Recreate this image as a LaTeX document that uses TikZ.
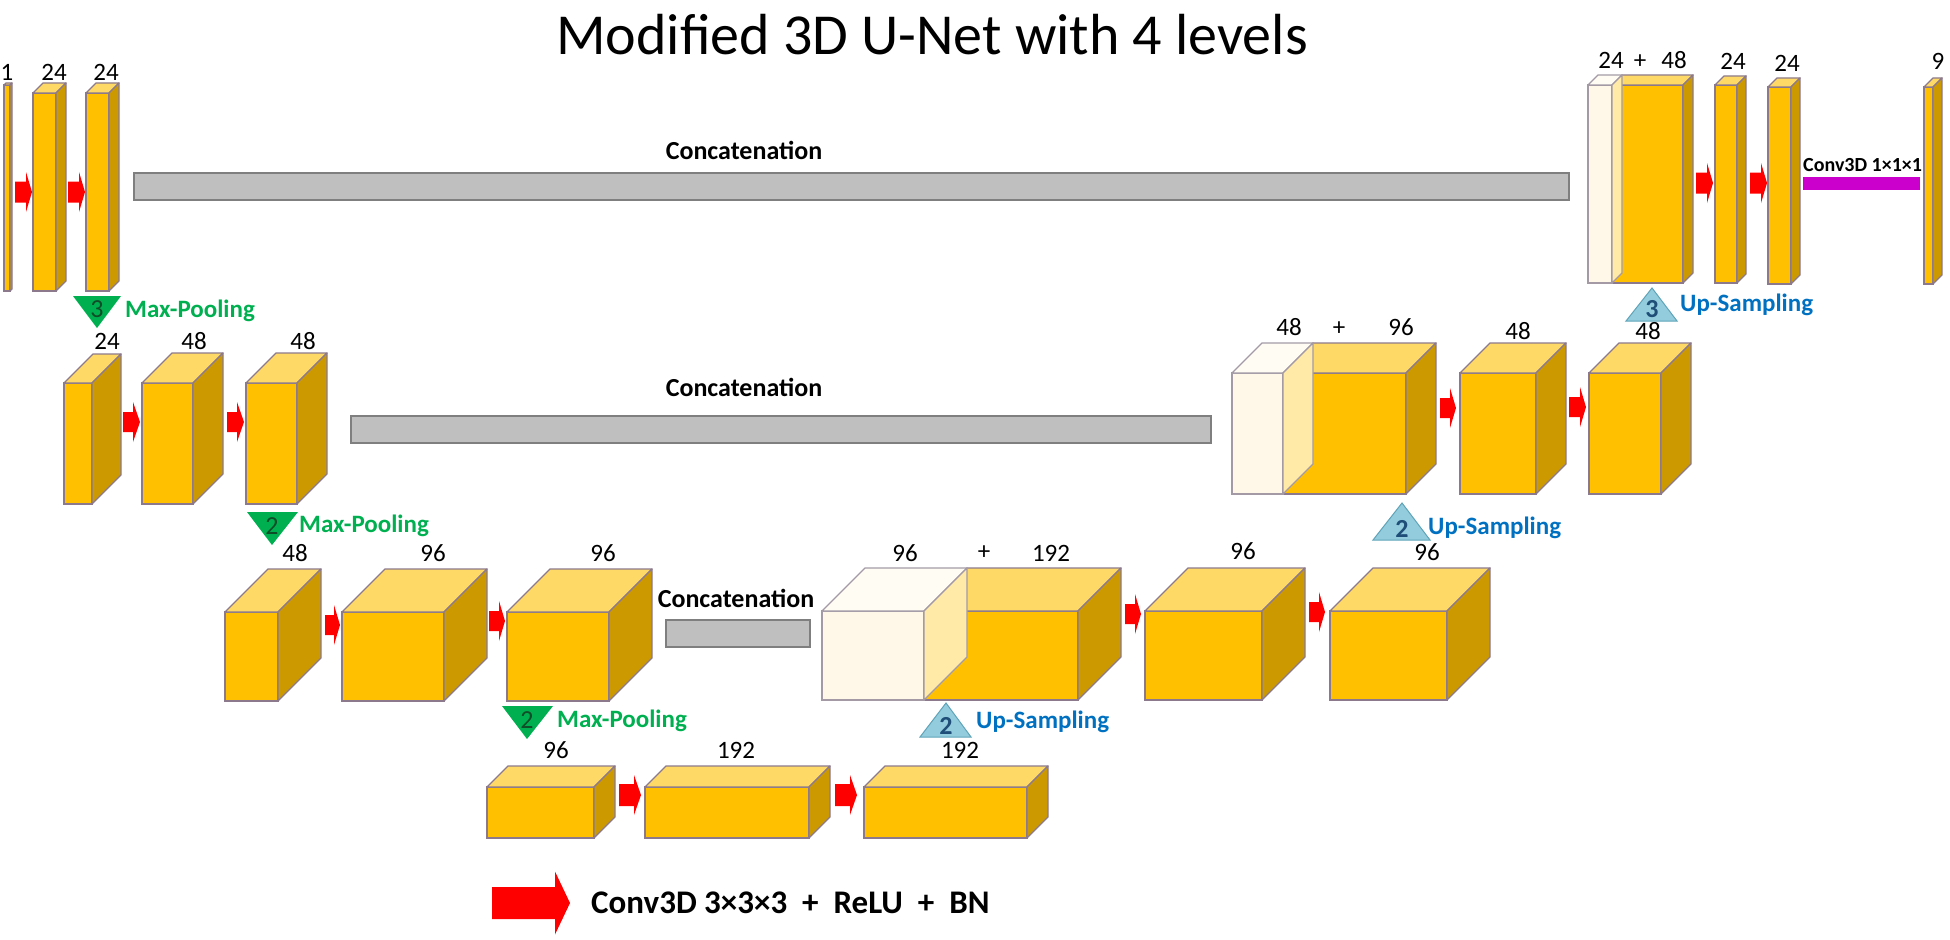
\documentclass[tikz,border=0pt]{standalone}
\usepackage{fontspec}
\setmainfont{Carlito}
\definecolor{cfront}{HTML}{FFC000}
\definecolor{ctop}{HTML}{FFD966}
\definecolor{cside}{HTML}{CC9900}
\definecolor{cedge}{HTML}{8C7A8C}
\definecolor{wfront}{HTML}{FFF8E8}
\definecolor{wtop}{HTML}{FFFCF4}
\definecolor{wside}{HTML}{FFEAA8}
\definecolor{wedge}{HTML}{A39AA6}
\definecolor{cgrey}{HTML}{BFBFBF}
\definecolor{cgreyedge}{HTML}{7F7F7F}
\definecolor{cmag}{HTML}{CC00CC}
\definecolor{cgreen}{HTML}{00B050}
\definecolor{cgreennum}{HTML}{0F4D28}
\definecolor{cblue}{HTML}{0070C0}
\definecolor{cbluetri}{HTML}{93CDDD}
\definecolor{cbluetriedge}{HTML}{5FA3B8}
\definecolor{cbluenum}{HTML}{1F4E79}
\definecolor{cred}{HTML}{FF0000}
% #1 colour prefix (c or w), #2 x, #3 y (front top-left), #4 width, #5 height, #6 depth
\newcommand\boxthree[6]{%
  \filldraw[fill=#1front, draw=#1edge, line width=1.3pt] (#2,#3) rectangle ({#2+#4},{#3+#5});
  \filldraw[fill=#1top, draw=#1edge, line width=1.3pt, line join=round] (#2,#3) -- ({#2+#6},{#3-#6}) -- ({#2+#4+#6},{#3-#6}) -- ({#2+#4},#3) -- cycle;
  \filldraw[fill=#1side, draw=#1edge, line width=1.3pt, line join=round] ({#2+#4},#3) -- ({#2+#4+#6},{#3-#6}) -- ({#2+#4+#6},{#3+#5-#6}) -- ({#2+#4},{#3+#5}) -- cycle;
}
% red block arrow: #1 x start, #2 y centre, #3 length, #4 head length, #5 body height, #6 head height
\newcommand\blockarrow[6]{%
  \fill[cred] (#1,{#2-#5/2}) -- ({#1+#3-#4},{#2-#5/2}) -- ({#1+#3-#4},{#2-#6/2}) -- ({#1+#3},#2) -- ({#1+#3-#4},{#2+#6/2}) -- ({#1+#3-#4},{#2+#5/2}) -- (#1,{#2+#5/2}) -- cycle;
}
\tikzset{
  num/.style={font=\fontsize{25}{27}\selectfont, anchor=base, inner sep=0pt},
  concat/.style={font=\bfseries\fontsize{26}{28}\selectfont, anchor=base, inner sep=0pt},
  mplabel/.style={font=\bfseries\fontsize{25}{27}\selectfont, text=cgreen, anchor=base west, inner sep=0pt},
  uslabel/.style={font=\bfseries\fontsize{25}{27}\selectfont, text=cblue, anchor=base west, inner sep=0pt},
  mpnum/.style={font=\fontsize{26}{28}\selectfont, text=cgreennum, anchor=base, inner sep=0pt},
  usnum/.style={font=\bfseries\fontsize{26}{28}\selectfont, text=cbluenum, anchor=base, inner sep=0pt},
  greybar/.style={fill=cgrey, draw=cgreyedge, line width=1.5pt},
  mptri/.style={fill=cgreen},
  ustri/.style={fill=cbluetri, draw=cbluetriedge, line width=1pt},
}
\begin{document}
\begin{tikzpicture}[x=1pt,y=-1pt]
\useasboundingbox (0,0) rectangle (1950,939);

% title
\node[anchor=base, font=\fontsize{58}{60}\selectfont, inner sep=0pt] (title) at (932,55) {Modified 3D U-Net with 4 levels};

% ---------------- level 0 ----------------
\boxthree{c}{4}{85}{6}{206}{2}
\boxthree{c}{33}{93}{23}{198}{10}
\boxthree{c}{86}{93}{23}{198}{10}
\blockarrow{15}{192}{17}{6}{21}{40}
\blockarrow{68}{192}{17}{6}{21}{40}
\node[num] (l0a) at (7,81) {1};
\node[num] (l0b) at (54,81) {24};
\node[num] (l0c) at (106,81) {24};

\filldraw[greybar] (134,173) rectangle (1569,200);
\node[concat] (cat0) at (744,159) {Concatenation};

\boxthree{c}{1612}{85}{71}{198}{10}
\boxthree{w}{1588}{85}{24}{198}{10}
\boxthree{c}{1715}{85}{22}{198}{9}
\boxthree{c}{1768}{87}{23}{197}{9}
\boxthree{c}{1924}{87}{9}{197}{9}
\blockarrow{1696}{183}{17}{6}{21}{40}
\blockarrow{1750}{183}{17}{6}{21}{40}
\node[num] (r0a) at (1611,69) {24};
\node[num] (r0p) at (1640,69) {+};
\node[num] (r0b) at (1674,69) {48};
\node[num] (r0c) at (1733,70) {24};
\node[num] (r0d) at (1787,72) {24};
\node[num] (r0e) at (1938,70) {9};
\fill[cmag] (1803,177) rectangle (1920,190);
\node[anchor=base west, font=\bfseries\fontsize{20}{22}\selectfont, inner sep=0pt] (c111) at (1803,171) {Conv3D 1×1×1};

% max-pooling 0 / up-sampling 0
\fill[mptri] (73,296) -- (121,296) -- (97,328) -- cycle;
\node[mpnum] (mp0n) at (97,317) {3};
\node[mplabel] (mp0) at (125,317) {Max-Pooling};
\filldraw[ustri] (1626,321) -- (1652,288) -- (1677,321) -- cycle;
\node[usnum] (us0n) at (1652,317) {3};
\node[uslabel] (us0) at (1680,311) {Up-Sampling};

% ---------------- level 1 ----------------
\boxthree{c}{64}{383}{28}{121}{29}
\boxthree{c}{142}{383}{51}{121}{30}
\boxthree{c}{246}{383}{51}{121}{30}
\blockarrow{123}{422}{17}{7}{20}{40}
\blockarrow{227}{422}{17}{7}{20}{40}
\node[num] (l1a) at (107,349) {24};
\node[num] (l1b) at (194,349) {48};
\node[num] (l1c) at (303,349) {48};

\filldraw[greybar] (351,416) rectangle (1211,443);
\node[concat] (cat1) at (744,396) {Concatenation};

\boxthree{c}{1283}{373}{123}{121}{30}
\boxthree{w}{1232}{373}{51}{121}{30}
\boxthree{c}{1460}{373}{76}{121}{30}
\boxthree{c}{1589}{373}{72}{121}{30}
\blockarrow{1440}{408}{16}{6}{20}{40}
\blockarrow{1569}{407}{17}{6}{20}{40}
\node[num] (r1a) at (1289,335) {48};
\node[num] (r1p) at (1339,335) {+};
\node[num] (r1b) at (1401,335) {96};
\node[num] (r1c) at (1518,339) {48};
\node[num] (r1d) at (1648,339) {48};

\fill[mptri] (247,512) -- (298,512) -- (272,545) -- cycle;
\node[mpnum] (mp1n) at (272,534) {2};
\node[mplabel] (mp1) at (299,532) {Max-Pooling};
\filldraw[ustri] (1373,540) -- (1402,503) -- (1430,540) -- cycle;
\node[usnum] (us1n) at (1402,537) {2};
\node[uslabel] (us1) at (1428,534) {Up-Sampling};

% ---------------- level 2 ----------------
\boxthree{c}{225}{612}{53}{89}{43}
\boxthree{c}{342}{612}{102}{89}{43}
\boxthree{c}{507}{612}{102}{89}{43}
\blockarrow{325}{625}{15}{6}{20}{40}
\blockarrow{489}{621}{16}{6}{20}{40}
\node[num] (l2a) at (295,561) {48};
\node[num] (l2b) at (433,561) {96};
\node[num] (l2c) at (603,561) {96};

\filldraw[greybar] (666,620) rectangle (810,647);
\node[concat] (cat2) at (736,607) {Concatenation};

\boxthree{c}{924}{611}{154}{89}{43}
\boxthree{w}{822}{611}{102}{89}{43}
\boxthree{c}{1145}{611}{117}{89}{43}
\boxthree{c}{1330}{611}{117}{89}{43}
\blockarrow{1125}{614}{16}{6}{20}{40}
\blockarrow{1309}{612}{16}{6}{20}{40}
\node[num] (r2a) at (905,561) {96};
\node[num] (r2p) at (984,559) {+};
\node[num] (r2b) at (1051,561) {192};
\node[num] (r2c) at (1243,559) {96};
\node[num] (r2d) at (1427,560) {96};

\fill[mptri] (502,706) -- (553,706) -- (527,739) -- cycle;
\node[mpnum] (mp2n) at (527,728) {2};
\node[mplabel] (mp2) at (557,727) {Max-Pooling};
\filldraw[ustri] (920,737) -- (946,703) -- (971,737) -- cycle;
\node[usnum] (us2n) at (946,734) {2};
\node[uslabel] (us2) at (976,728) {Up-Sampling};

% ---------------- level 3 ----------------
\boxthree{c}{487}{787}{107}{51}{21}
\boxthree{c}{645}{787}{164}{51}{21}
\boxthree{c}{864}{787}{163}{51}{21}
\blockarrow{619}{795}{22}{7}{22}{40}
\blockarrow{835}{795}{22}{7}{22}{40}
\node[num] (l3a) at (556,758) {96};
\node[num] (l3b) at (736,758) {192};
\node[num] (l3c) at (960,758) {192};

% ---------------- legend ----------------
\blockarrow{492}{903}{78}{15}{32}{63}
\node[anchor=base west, font=\bfseries\fontsize{33}{36}\selectfont, inner sep=0pt] (legend) at (591,913) {Conv3D 3×3×3 \ + \ ReLU \ + \ BN};
\end{tikzpicture}
\end{document}
